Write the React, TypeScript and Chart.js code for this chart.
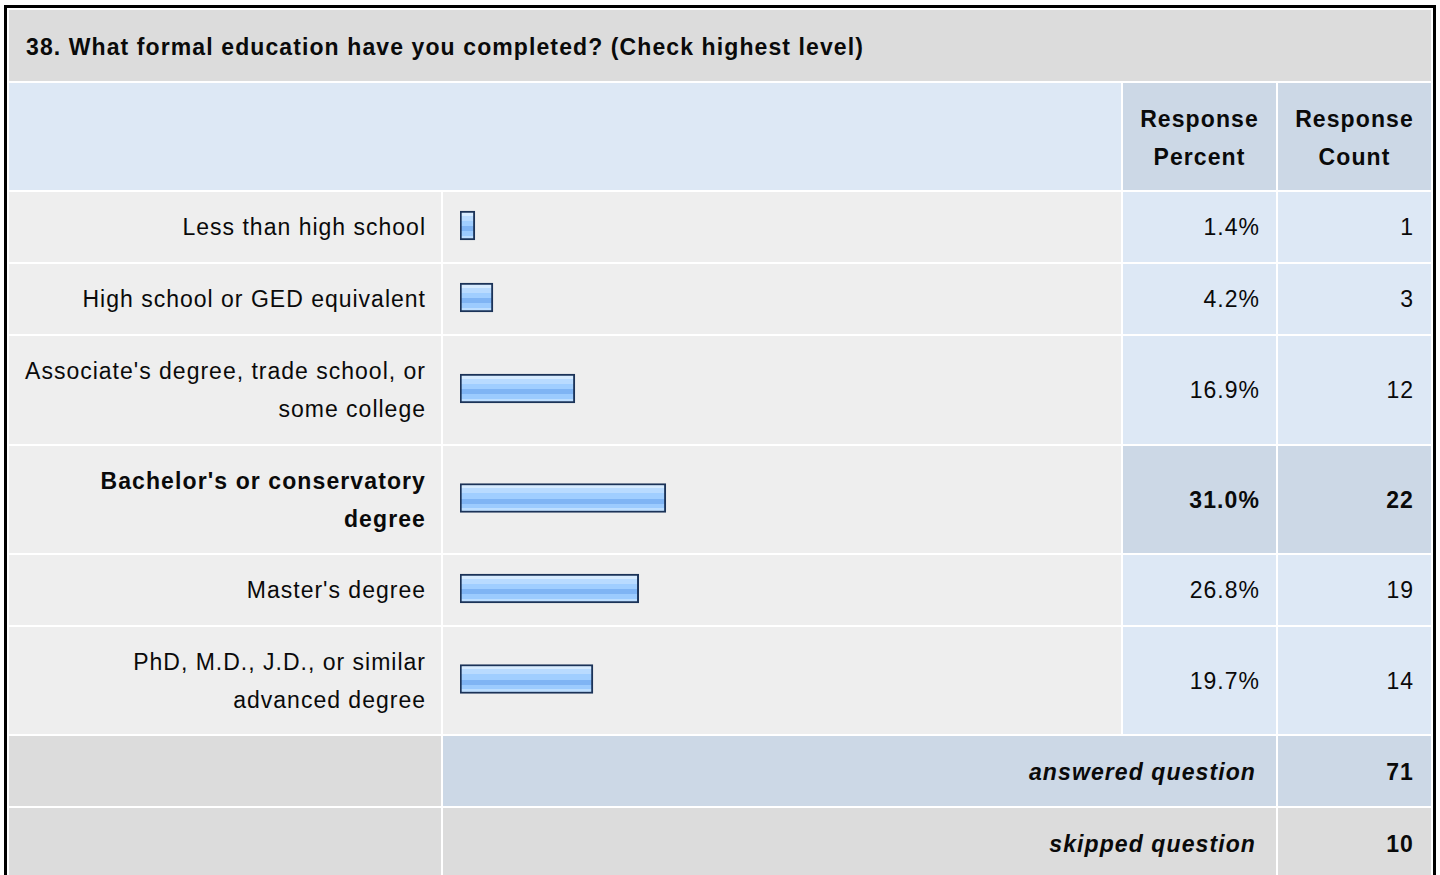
import React, { useEffect, useRef } from "react";
import { Chart, registerables } from "chart.js";

Chart.register(...registerables);

// ---------- data ----------
const title = "38. What formal education have you completed? (Check highest level)";
const categories = [
  "Less than high school",
  "High school or GED equivalent",
  "Associate's degree, trade school, or\nsome college",
  "Bachelor's or conservatory\ndegree",
  "Master's degree",
  "PhD, M.D., J.D., or similar\nadvanced degree",
];
const percents = [1.4, 4.2, 16.9, 31.0, 26.8, 19.7];
const counts = [1, 3, 12, 22, 19, 14];
const highlightIndex = 3;
const headerPercent = "Response\nPercent";
const headerCount = "Response\nCount";
const answeredLabel = "answered question";
const skippedLabel = "skipped question";
const answeredCount = 71;
const skippedCount = 10;

// ---------- style ----------
const FONT = 'Arial, "Liberation Sans", Helvetica, sans-serif';
const C_TITLE = "#dcdcdc";
const C_LABEL = "#eeeeee";
const C_LIGHTBLUE = "#dde8f5";
const C_BLUEGRAY = "#ccd8e6";
const BAR_BASE = -0.9;
const BAR_W = 678;
const rowHeights = [70, 70, 108, 107, 70, 107];

function BarCell({ value, height }: { value: number; height: number }) {
  const ref = useRef<HTMLCanvasElement>(null);
  useEffect(() => {
    const canvas = ref.current!;
    const chart = new Chart(canvas, {
      type: "bar",
      data: {
        labels: [""],
        datasets: [
          {
            data: [value],
            base: BAR_BASE,
            barThickness: 29,
            borderWidth: 2,
            borderColor: "#1b3358",
            borderSkipped: false,
            backgroundColor: (c: any) => {
              const ch = c.chart;
              const area = ch.chartArea;
              if (!area || !isFinite(area.top) || !isFinite(area.bottom)) return "#9dcbff";
              const center = (area.top + area.bottom) / 2;
              const top = center - 14.5;
              const g = ch.ctx.createLinearGradient(0, top, 0, top + 29);
              const stops: [number, string][] = [
                [0, "#d6ebff"],
                [0.17, "#d6ebff"],
                [0.17, "#b9dbff"],
                [0.34, "#b9dbff"],
                [0.34, "#a0ceff"],
                [0.52, "#a0ceff"],
                [0.52, "#7fb4f4"],
                [0.69, "#7fb4f4"],
                [0.69, "#9ccbfe"],
                [0.86, "#9ccbfe"],
                [0.86, "#bddeff"],
                [1, "#bddeff"],
              ];
              stops.forEach(([o, col]) => g.addColorStop(o, col));
              return g;
            },
          } as any,
        ],
      },
      options: {
        indexAxis: "y",
        responsive: false,
        maintainAspectRatio: false,
        animation: false,
        devicePixelRatio: 1,
        events: [],
        layout: { padding: { left: 17, right: 10, top: 0, bottom: 3 } },
        scales: {
          x: { min: BAR_BASE, max: 100, display: false },
          y: { display: false },
        },
        plugins: { legend: { display: false }, tooltip: { enabled: false } },
      },
    });
    return () => chart.destroy();
  }, [value, height]);
  return <canvas ref={ref} width={BAR_W} height={height} style={{ display: "block" }} />;
}

const baseText: React.CSSProperties = {
  fontFamily: FONT,
  fontSize: 23,
  letterSpacing: "1px",
  lineHeight: "37.6px",
  color: "#0a0a0a",
  whiteSpace: "pre-line",
};

function Cell({
  bg,
  align = "right",
  bold = false,
  italic = false,
  padL = 10,
  padR = 15,
  padT = 2,
  span,
  children,
}: {
  bg: string;
  align?: "left" | "right" | "center";
  bold?: boolean;
  italic?: boolean;
  padL?: number;
  padR?: number;
  padT?: number;
  span?: number;
  children?: React.ReactNode;
}) {
  return (
    <div
      style={{
        ...baseText,
        background: bg,
        display: "flex",
        alignItems: "center",
        justifyContent: align === "left" ? "flex-start" : align === "center" ? "center" : "flex-end",
        textAlign: align,
        fontWeight: bold ? "bold" : "normal",
        fontStyle: italic ? "italic" : "normal",
        letterSpacing: bold ? "1.1px" : "1px",
        paddingLeft: padL,
        paddingRight: padR,
        paddingTop: padT,
        boxSizing: "border-box",
        gridColumn: span ? `span ${span}` : undefined,
        overflow: "hidden",
      }}
    >
      <div>{children}</div>
    </div>
  );
}

export default function App() {
  const templateRows = [71, 107, ...rowHeights, 70, 70].map((h) => `${h}px`).join(" ");
  return (
    <div style={{ position: "fixed", left: 0, top: 0, width: 1440, height: 875, overflow: "hidden", background: "#fff" }}>
      <div
        style={{
          position: "absolute",
          left: 4,
          top: 5,
          width: 1432,
          boxSizing: "border-box",
          border: "3px solid #000",
          padding: 2,
          background: "#fff",
        }}
      >
        <div
          style={{
            display: "grid",
            gridTemplateColumns: "432px 678px 153px 153px",
            gridTemplateRows: templateRows,
            gap: 2,
          }}
        >
          <Cell bg={C_TITLE} align="left" bold padL={17} padT={5} span={4}>
            {title}
          </Cell>
          <Cell bg={C_LIGHTBLUE} span={2}>{""}</Cell>
          <Cell bg={C_BLUEGRAY} align="center" bold padL={0} padR={0} padT={4}>
            {headerPercent}
          </Cell>
          <Cell bg={C_BLUEGRAY} align="center" bold padL={0} padR={0} padT={4}>
            {headerCount}
          </Cell>
          {categories.map((cat, i) => {
            const hl = i === highlightIndex;
            return (
              <React.Fragment key={i}>
                <Cell bg={C_LABEL} bold={hl} padR={15}>
                  {cat}
                </Cell>
                <div style={{ background: C_LABEL, overflow: "hidden" }}>
                  <BarCell value={percents[i]} height={rowHeights[i]} />
                </div>
                <Cell bg={hl ? C_BLUEGRAY : C_LIGHTBLUE} bold={hl} padR={16}>
                  {percents[i].toFixed(1) + "%"}
                </Cell>
                <Cell bg={hl ? C_BLUEGRAY : C_LIGHTBLUE} bold={hl} padR={17}>
                  {String(counts[i])}
                </Cell>
              </React.Fragment>
            );
          })}
          <Cell bg={C_TITLE}>{""}</Cell>
          <Cell bg={C_BLUEGRAY} bold italic span={2} padR={20} padT={4}>
            {answeredLabel}
          </Cell>
          <Cell bg={C_BLUEGRAY} bold padR={17} padT={4}>
            {String(answeredCount)}
          </Cell>
          <Cell bg={C_TITLE}>{""}</Cell>
          <Cell bg={C_TITLE} bold italic span={2} padR={20} padT={4}>
            {skippedLabel}
          </Cell>
          <Cell bg={C_TITLE} bold padR={17} padT={4}>
            {String(skippedCount)}
          </Cell>
        </div>
      </div>
    </div>
  );
}
